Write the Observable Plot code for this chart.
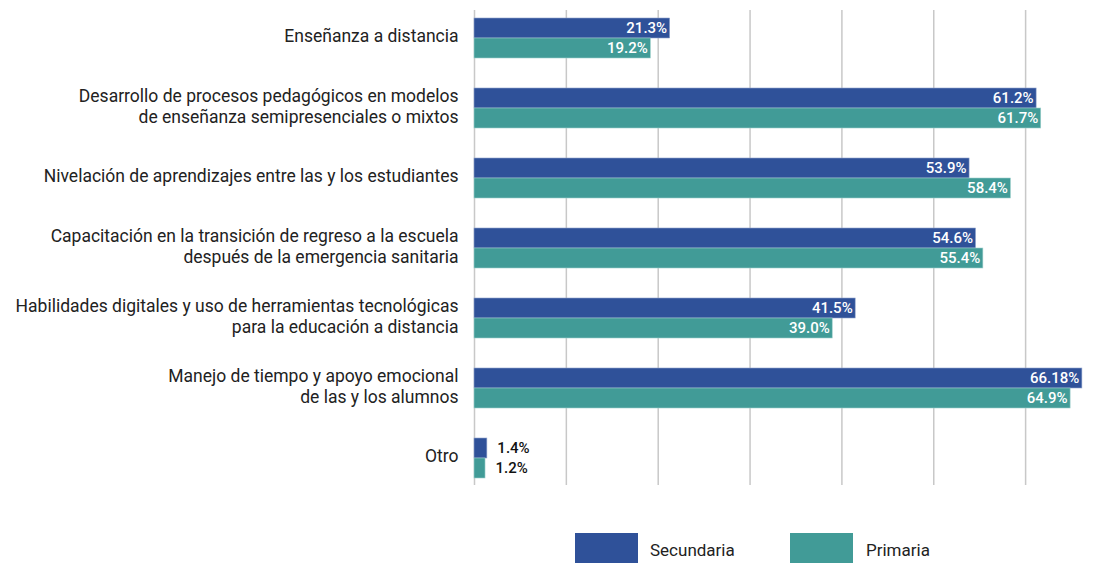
<!DOCTYPE html>
<html>
<head>
<meta charset="utf-8">
<script src="https://cdn.jsdelivr.net/npm/d3@7"></script>
<script src="https://cdn.jsdelivr.net/npm/@observablehq/plot@0.6"></script>
<style>
  body { margin: 0; background: #fff; font-family: Roboto, "Liberation Sans", sans-serif; }
  #wrap { position: relative; width: 1102px; height: 563px; overflow: hidden; }
  #legend { position: absolute; left: 0; top: 500px; width: 1102px; height: 63px; }
  .sw { position: absolute; top: 33px; width: 63px; height: 32px; }
  .lt { position: absolute; top: 40px; font-size: 17px; color: #222; }
</style>
</head>
<body>
<div id="wrap"><div id="chart"></div><div id="legend"></div></div>
<script>
const categories = [
  "Enseñanza a distancia",
  "Desarrollo de procesos pedagógicos en modelos\nde enseñanza semipresenciales o mixtos",
  "Nivelación de aprendizajes entre las y los estudiantes",
  "Capacitación en la transición de regreso a la escuela\ndespués de la emergencia sanitaria",
  "Habilidades digitales y uso de herramientas tecnológicas\npara la educación a distancia",
  "Manejo de tiempo y apoyo emocional\nde las y los alumnos",
  "Otro"
];
const secundaria = [21.3, 61.2, 53.9, 54.6, 41.5, 66.18, 1.4];
const primaria = [19.2, 61.7, 58.4, 55.4, 39.0, 64.9, 1.2];
const secundariaLabels = ["21.3%", "61.2%", "53.9%", "54.6%", "41.5%", "66.18%", "1.4%"];
const primariaLabels = ["19.2%", "61.7%", "58.4%", "55.4%", "39.0%", "64.9%", "1.2%"];
const seriesNames = ["Secundaria", "Primaria"];
const seriesColors = ["#2f5199", "#419b97"];
const gridTicks = [0, 10, 20, 30, 40, 50, 60];

const rows = [];
categories.forEach((c, i) => {
  rows.push({category: c, series: seriesNames[0], value: secundaria[i], label: secundariaLabels[i]});
  rows.push({category: c, series: seriesNames[1], value: primaria[i], label: primariaLabels[i]});
});
const sec = rows.filter(d => d.series === seriesNames[0]);
const pri = rows.filter(d => d.series === seriesNames[1]);
const isSmall = d => d.value < 5;

const plot = Plot.plot({
  width: 1102,
  height: 500,
  marginLeft: 474,
  marginRight: 8,
  marginTop: 3,
  marginBottom: 7,
  style: {fontFamily: "Roboto, 'Liberation Sans', sans-serif", background: "#fff"},
  x: {domain: [0, 67.5], axis: null},
  y: {domain: categories, padding: 0, axis: null},
  marks: [
    Plot.ruleX(gridTicks, {x: d => d, stroke: "#c8c8c8", strokeWidth: 1.5, insetTop: 7, insetBottom: 8}),
    Plot.barX(sec, {x: "value", y: "category", fill: seriesColors[0], insetTop: 15, insetBottom: 35, stroke: "#8fa3cc", strokeWidth: 0.6}),
    Plot.barX(pri, {x: "value", y: "category", fill: seriesColors[1], insetTop: 35, insetBottom: 15, stroke: "#9fd0cc", strokeWidth: 0.6}),
    Plot.text(sec.filter(d => !isSmall(d)), {x: "value", y: "category", text: "label", dy: -10, dx: -3, textAnchor: "end", fill: "white", fontSize: 15, fontWeight: 500}),
    Plot.text(pri.filter(d => !isSmall(d)), {x: "value", y: "category", text: "label", dy: 10, dx: -3, textAnchor: "end", fill: "white", fontSize: 15, fontWeight: 500}),
    Plot.text(sec.filter(isSmall), {x: "value", y: "category", text: "label", dy: -10, dx: 10, textAnchor: "start", fill: "#111", fontSize: 15, fontWeight: 500}),
    Plot.text(pri.filter(isSmall), {x: "value", y: "category", text: "label", dy: 10, dx: 10, textAnchor: "start", fill: "#111", fontSize: 15, fontWeight: 500}),
    Plot.text(categories, {x: 0, y: d => d, text: d => d, dx: -16, dy: -3, textAnchor: "end", fill: "#222", fontSize: 17.5, lineHeight: 1.2})
  ]
});
document.getElementById("chart").appendChild(plot);

const legend = document.getElementById("legend");
const legendX = [[575, 650], [790, 866]];
seriesNames.forEach((s, i) => {
  const sw = document.createElement("div");
  sw.className = "sw";
  sw.style.left = legendX[i][0] + "px";
  sw.style.background = seriesColors[i];
  legend.appendChild(sw);
  const t = document.createElement("div");
  t.className = "lt";
  t.style.left = legendX[i][1] + "px";
  t.textContent = s;
  legend.appendChild(t);
});
</script>
</body>
</html>
